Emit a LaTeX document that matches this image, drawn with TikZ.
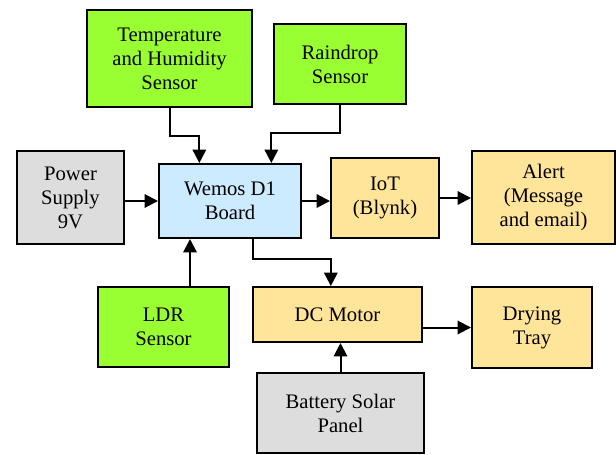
\documentclass[tikz,border=0pt]{standalone}
\usepackage{fontspec}
\setmainfont{LiberationSerif}[Extension=.ttf, UprightFont=*-Regular, BoldFont=*-Bold]
\usetikzlibrary{arrows.meta}
\definecolor{sensorgreen}{HTML}{99FF33}
\definecolor{supplygray}{HTML}{DDDDDD}
\definecolor{boardblue}{HTML}{CCEBFF}
\definecolor{outorange}{HTML}{FFE599}
\begin{document}
\begin{tikzpicture}[
        x=0.75pt, y=-0.75pt, font=\rmfamily\fontsize{15.5}{18}\selectfont,
        component/.style={draw, line width=1.5pt, align=center, inner sep=2pt},
        sensor/.style={component, fill=sensorgreen},
        supply/.style={component, fill=supplygray},
        board/.style={component, fill=boardblue},
        output/.style={component, fill=outorange},
        flow/.style={-{Triangle[length=10pt,width=10pt]}, line width=1.5pt}
    ]
        \useasboundingbox (0,0) rectangle (616,454);

        % Sensors.
        \node[sensor, minimum width=165*0.75pt, minimum height=97*0.75pt] (temp) at (169.5,58.5) {Temperature\\and Humidity\\Sensor};
        \node[sensor, minimum width=132*0.75pt, minimum height=80*0.75pt] (rain) at (340,64) {Raindrop\\Sensor};
        \node[sensor, minimum width=131*0.75pt, minimum height=80*0.75pt] (ldr) at (163.5,327) {LDR\\Sensor};

        % Power sources.
        \node[supply, minimum width=107*0.75pt, minimum height=93*0.75pt] (power) at (70.5,197.5) {Power\\Supply\\9V};
        \node[supply, minimum width=167*0.75pt, minimum height=80*0.75pt] (battery) at (340.5,413) {Battery Solar\\Panel};

        % Controller.
        \node[board, minimum width=142*0.75pt, minimum height=74*0.75pt] (wemos) at (230,201) {Wemos D1\\Board};

        % Outputs.
        \node[output, minimum width=108*0.75pt, minimum height=80*0.75pt] (iot) at (385,198) {IoT\\(Blynk)};
        \node[output, minimum width=143*0.75pt, minimum height=93*0.75pt] (alert) at (543.5,197.5) {Alert\\(Message\\and email)};
        \node[output, minimum width=169*0.75pt, minimum height=55*0.75pt] (motor) at (337.5,314.5) {DC Motor};
        \node[output, minimum width=120*0.75pt, minimum height=81*0.75pt] (tray) at (532,327.5) {Drying\\Tray};

        % Inputs to the board.
        \draw[flow] (temp.south) -- ++(0,28) -| ([xshift=-23pt]wemos.north);
        \draw[flow] (rain.south) -- ++(0,28) -| ([xshift=31pt]wemos.north);
        \draw[flow] (power.east |- wemos.west) -- (wemos.west);
        \draw[flow] ([xshift=-30pt]wemos.south |- ldr.north) -- ([xshift=-30pt]wemos.south);

        % Board to outputs.
        \draw[flow] (wemos.east) -- (iot.west |- wemos.east);
        \draw[flow] (iot.east) -- (alert.west |- iot.east);
        \draw[flow] ([xshift=17pt]wemos.south) -- ++(0,20) -| ([xshift=-5pt]motor.north);

        % Motor side.
        \draw[flow] (battery.north) -- (battery.north |- motor.south);
        \draw[flow] (tray.west -| motor.east) -- (tray.west);
    \end{tikzpicture}
\end{document}
